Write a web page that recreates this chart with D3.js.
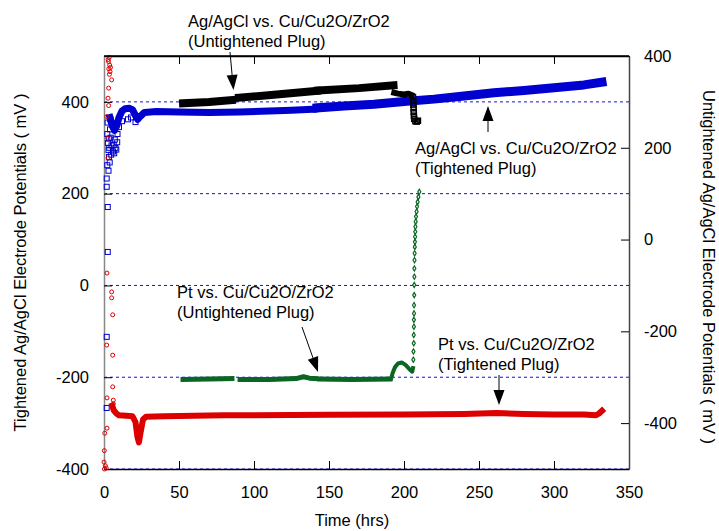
<!DOCTYPE html>
<html><head><meta charset="utf-8">
<script src="https://cdn.jsdelivr.net/npm/d3@7/dist/d3.min.js"></script>
<style>
html,body{margin:0;padding:0;background:#fff;}
svg text{font-family:"Liberation Sans",Arial,sans-serif;}
</style></head>
<body><svg id="c" width="719" height="531"></svg>
<script>
// ---------------- data (time in hrs, potential in mV) ----------------
const xTicks = [0,50,100,150,200,250,300,350];
const leftTicks = [-400,-200,0,200,400];
const rightTicks = [-400,-200,0,200,400];
const gridValues = [-400,-200,0,200,400];

// Tightened Ag/AgCl vs Cu/Cu2O/ZrO2 (left axis), blue
const blueScatter = [[1.8,233],[1.8,215],[2.5,171],[2.5,73],[1.8,-112],[1.8,-267],[2.2,330],[2.6,310],[3.0,295],[3.3,280],[2.2,262],[3.0,250],[4.0,340],[4.5,322],[5.0,305],[6.0,292],[6.5,306],[7.2,318],[7.6,300],[8.2,296],[5.5,352],[4.2,362],[3.5,300],[4.8,285],[6.8,288],[3.8,268],[9,330],[10,345],[8.8,312],[12,358],[16,362],[18,366],[21,356],[2.4,355],[3.2,320]];
const blueSeg1 = [[4,366],[5.5,348],[7,338],[8.5,348],[10,366],[12,380],[14,385],[17,386],[19,383],[21,370],[22.5,362],[24,368],[27,377],[35,379],[50,378],[70,377],[90,378],[110,380],[125,382],[140,384]];
const blueSeg2 = [[142,387],[160,391],[180,395],[200,401],[220,406],[240,413],[260,420],[280,425],[300,431],[320,437],[332,443]];

// Untightened Ag/AgCl vs Cu/Cu2O/ZrO2 (right axis), black
const blackSeg1 = [[52.7,297],[70,300],[85.3,304]];
const blackSeg2 = [[90,309],[115,316],[142,324]];
const blackSeg3 = [[142.7,325],[170,330],[193,336]];
const blackSeg4 = [[193.5,320],[196,318],[200,316],[203,318],[205,315]];
const blackDrop = [[206,310],[206.2,302],[206.3,294],[206.4,286],[206.5,278],[206.6,270],[206.8,263],[207.6,258],[208.5,257],[209.3,259]];

// Tightened Pt vs Cu/Cu2O/ZrO2 (left axis), red
const redScatter = [[3.5,497],[3.0,488],[3.8,480],[3.2,472],[4.0,466],[3.6,460],[4.3,475],[2.8,492],[5.1,448],[3.1,430],[2.7,408],[3.1,392],[1.8,368],[2.5,321],[2.7,278],[2.0,27],[5.1,-14],[5.1,-27],[5.8,-64],[1.8,-130],[5.8,-152],[5.8,-221],[2.0,-245],[6.2,-250],[6.2,-258],[2.0,-311],[0.5,-322],[0.2,-360],[0,-385],[0.9,-393],[1.5,-398],[0.3,-400]];
const redSeg = [[5.5,-262],[6.5,-272],[8,-278],[10,-283],[15,-284],[19,-285],[21,-298],[22.3,-330],[23.3,-342],[24.5,-318],[26,-292],[28,-286],[40,-285],[60,-284],[80,-283],[100,-283],[150,-282],[200,-281],[240,-280],[262,-278],[280,-280],[300,-281],[320,-281],[328,-283],[330,-279],[332,-273]];

// Untightened Pt vs Cu/Cu2O/ZrO2 (right axis), green
const greenSeg1 = [[52.7,-305],[70,-304],[85.3,-303]];
const greenSeg2 = [[90.7,-305],[110,-305],[128,-303],[133,-299],[137,-302],[141.3,-303]];
const greenSeg3 = [[144,-304],[165,-305],[190.7,-304]];
const greenSeg4 = [[191.5,-302],[192.5,-290],[194,-278],[196,-270],[198.5,-268],[201,-273],[203.5,-282],[205.5,-288],[206,-280]];
const greenDots = [[206.2,-262],[206.3,-244],[206.5,-226],[206.5,-208],[206.6,-190],[206.6,-175],[206.7,-161],[206.7,-143],[206.8,-121],[206.8,-99],[206.9,-81],[206.9,-63],[207.0,-45],[207.1,-30],[207.2,-16],[207.3,-5],[207.4,6],[207.5,17],[207.6,28],[207.8,39],[208.0,50],[208.4,61],[208.7,72],[209.1,82],[209.6,93],[210.2,104]];

const annotations = [
  {lines:["Ag/AgCl vs. Cu/Cu2O/ZrO2","(Untightened Plug)"], x:188, y:27, arrow:[230,52,233.5,90]},
  {lines:["Ag/AgCl vs. Cu/Cu2O/ZrO2","(Tightened Plug)"], x:415, y:154, arrow:[488,132,488,106]},
  {lines:["Pt vs. Cu/Cu2O/ZrO2","(Untightened Plug)"], x:177, y:298, arrow:[302,327,318,372]},
  {lines:["Pt vs. Cu/Cu2O/ZrO2","(Tightened Plug)"], x:438, y:349.5, arrow:[499,375,499,405]}
];

// ---------------- drawing ----------------
const svg = d3.select("#c");
const L=104, R=629, T=56, B=469;
const FS = "16.5px";
const x = d3.scaleLinear().domain([0,350]).range([L,R]);
const yL = d3.scaleLinear().domain([-400,500]).range([B,T]);
const yR = d3.scaleLinear().domain([-500,400]).range([B,T]);
const fmt = d => String(d);

// gridlines
svg.append("g").selectAll("line").data(gridValues).join("line")
  .attr("x1",L).attr("x2",R).attr("y1",d=>yL(d)).attr("y2",d=>yL(d))
  .attr("stroke","#1010e0").attr("stroke-width",1).attr("stroke-dasharray","3,3");

// axes
function styleAxis(g, col){
  g.selectAll("text").style("font-size",FS).attr("fill","#000");
  g.selectAll(".tick line").attr("stroke","#000").attr("stroke-width",1);
  g.select(".domain").attr("stroke",col).attr("stroke-width",1.5);
}
svg.append("g").attr("transform",`translate(0,${B})`)
  .call(d3.axisBottom(x).tickValues(xTicks).tickSize(-8).tickSizeOuter(0).tickPadding(17).tickFormat(fmt))
  .call(g=>styleAxis(g,"#000"));
svg.append("g").attr("transform",`translate(0,${T})`)
  .call(d3.axisTop(x).tickValues(xTicks).tickSize(-8).tickSizeOuter(0).tickFormat(""))
  .call(g=>styleAxis(g,"#000"));
svg.append("g").attr("transform",`translate(${L},0)`)
  .call(d3.axisLeft(yL).tickValues(leftTicks).tickSize(-8).tickSizeOuter(0).tickPadding(15).tickFormat(fmt))
  .call(g=>styleAxis(g,"#888"));
svg.append("g").attr("transform",`translate(${R},0)`)
  .call(d3.axisRight(yR).tickValues(rightTicks).tickSize(-8).tickSizeOuter(0).tickPadding(15).tickFormat(fmt))
  .call(g=>styleAxis(g,"#444"));

// axis titles
svg.append("text").attr("x",352).attr("y",526).attr("text-anchor","middle")
  .style("font-size",FS).text("Time (hrs)");
svg.append("text").attr("transform","translate(20,262.5) rotate(-90)")
  .attr("text-anchor","middle").attr("dominant-baseline","central")
  .style("font-size",FS).text("Tightened Ag/AgCl Electrode Potentials ( mV )");
svg.append("text").attr("transform","translate(709,267) rotate(90)")
  .attr("text-anchor","middle").attr("dominant-baseline","central")
  .style("font-size",FS).text("Untightened Ag/AgCl Electrode Potentials ( mV )");

const lineL = d3.line().x(d=>x(d[0])).y(d=>yL(d[1]));
const lineR = d3.line().x(d=>x(d[0])).y(d=>yR(d[1]));
function band(data, gen, col, w){
  svg.append("path").datum(data).attr("d",gen).attr("fill","none")
    .attr("stroke",col).attr("stroke-width",w)
    .attr("stroke-linejoin","round").attr("stroke-linecap","square");
}
const BLUE="#0000d0", RED="#dd0000", GREEN="#0b6623", BLACK="#000";

// blue
band(blueSeg1, lineL, BLUE, 7);
band(blueSeg2, lineL, BLUE, 9);
svg.append("g").selectAll("rect").data(blueScatter).join("rect")
  .attr("x",d=>x(d[0])-2.5).attr("y",d=>yL(d[1])-2.5).attr("width",5).attr("height",5)
  .attr("fill","none").attr("stroke",BLUE).attr("stroke-width",1);

// black
[blackSeg1,blackSeg2,blackSeg3].forEach(s=>band(s, lineR, BLACK, 8));
band(blackSeg4, lineR, BLACK, 6);
svg.append("g").selectAll("rect").data(blackDrop).join("rect")
  .attr("x",d=>x(d[0])-2.5).attr("y",d=>yR(d[1])-2.5).attr("width",5).attr("height",5)
  .attr("fill","none").attr("stroke",BLACK).attr("stroke-width",1.5);

// red
band(redSeg, lineL, RED, 6);
svg.append("g").selectAll("circle").data(redScatter).join("circle")
  .attr("cx",d=>x(d[0])).attr("cy",d=>yL(d[1])).attr("r",2)
  .attr("fill","none").attr("stroke",RED).attr("stroke-width",1);

// green
[greenSeg1,greenSeg2,greenSeg3].forEach(s=>band(s, lineR, GREEN, 5));
band(greenSeg4, lineR, GREEN, 4);
svg.append("g").selectAll("path.dm").data(greenDots).join("path").attr("class","dm")
  .attr("d",d3.symbol(d3.symbolDiamond, 8))
  .attr("transform",d=>`translate(${x(d[0])},${yR(d[1])})`)
  .attr("fill","none").attr("stroke",GREEN).attr("stroke-width",1.2);

// frame top line
svg.append("line").attr("x1",L).attr("x2",R).attr("y1",T).attr("y2",T).attr("stroke","#000").attr("stroke-width",1.5);

// annotations
annotations.forEach(a=>{
  a.lines.forEach((t,i)=>{
    svg.append("text").attr("x",a.x).attr("y",a.y+i*20).style("font-size",FS).text(t);
  });
  const [x1,y1,x2,y2]=a.arrow;
  const ang=Math.atan2(y2-y1,x2-x1), hl=15, hw=5.5;
  const bx=x2-hl*Math.cos(ang), by=y2-hl*Math.sin(ang);
  svg.append("line").attr("x1",x1).attr("y1",y1).attr("x2",bx).attr("y2",by).attr("stroke","#000").attr("stroke-width",1);
  const px=-Math.sin(ang)*hw, py=Math.cos(ang)*hw;
  svg.append("path").attr("d",`M${x2},${y2}L${bx+px},${by+py}L${bx-px},${by-py}Z`).attr("fill","#000");
});
</script></body></html>
